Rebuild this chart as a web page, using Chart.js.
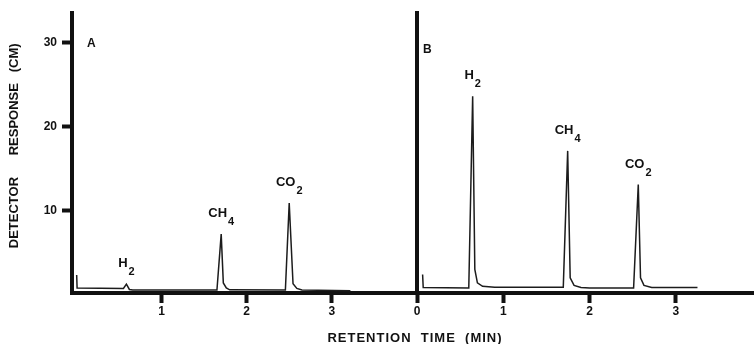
<!DOCTYPE html>
<html>
<head>
<meta charset="utf-8">
<script src="https://cdn.jsdelivr.net/npm/chart.js@4.4.1/dist/chart.umd.min.js"></script>
<style>
body { margin: 0; background: #fff; }
#wrap { position: relative; width: 754px; height: 344px; overflow: hidden; }
canvas { position: absolute; top: 0; }
#chart-a { left: 0; }
#chart-b { left: 400px; }
#x-title {
    position: absolute; left: 315px; width: 200px; top: 330px;
    text-align: center; white-space: pre; color: #111;
    font: bold 13px "Liberation Sans", Arial, sans-serif; line-height: 15px; letter-spacing: 1px;
}
</style>
</head>
<body>
<div id="wrap">
    <canvas id="chart-a" width="418" height="344"></canvas>
    <canvas id="chart-b" width="354" height="344"></canvas>
    <div id="x-title">RETENTION  TIME  (MIN)</div>
</div>
<script>
// retention time (min) / detector response (cm)
const timeA = [0.0, 0.005, 0.55, 0.585, 0.62, 0.66, 1.65, 1.70, 1.725, 1.76, 1.80, 2.455, 2.50, 2.545, 2.59, 2.65, 3.22];
const respA = [2.35, 0.8, 0.74, 1.25, 0.62, 0.55, 0.55, 7.2, 1.4, 0.8, 0.58, 0.55, 10.9, 1.3, 0.75, 0.55, 0.48];

const timeB = [0.065, 0.072, 0.60, 0.645, 0.67, 0.70, 0.76, 0.90, 1.695, 1.746, 1.775, 1.82, 1.90, 2.00, 2.51, 2.564, 2.59, 2.63, 2.72, 3.25];
const respB = [2.4, 0.85, 0.8, 23.6, 3.0, 1.4, 1.0, 0.88, 0.88, 17.1, 2.0, 1.1, 0.85, 0.78, 0.78, 13.1, 2.0, 1.1, 0.85, 0.85];

// peak labels (name + subscript)
const peakNames = ['H', 'CH', 'CO'];
const peakSubs = ['2', '4', '2'];
const peakTimeA = [0.585, 1.70, 2.50];
const peakRespA = [1.25, 7.2, 10.9];
const peakTimeB = [0.645, 1.746, 2.564];
const peakRespB = [23.6, 17.1, 13.1];

const yTicks = [10, 20, 30];
const xTicksA = [1, 2, 3];
const xTicksB = [0, 1, 2, 3];

const INK = '#111';
const FONT = '"Liberation Sans", Arial, sans-serif';

const peakLabels = {
    id: 'peakLabels',
    afterDatasetsDraw(chart, args, opts){
        const ctx = chart.ctx;
        const x = chart.scales.x, y = chart.scales.y;
        ctx.save();
        ctx.fillStyle = INK;
        ctx.textAlign = 'left';
        ctx.textBaseline = 'alphabetic';
        for(let i = 0; i < peakNames.length; i++){
            const px = x.getPixelForValue(opts.times[i]);
            const py = y.getPixelForValue(opts.heights[i]);
            ctx.font = 'bold 13px ' + FONT;
            const w1 = ctx.measureText(peakNames[i]).width;
            ctx.font = 'bold 11px ' + FONT;
            const w2 = ctx.measureText(peakSubs[i]).width;
            const left = px - (w1 + 1 + w2) / 2;
            const base = py - 17;
            ctx.font = 'bold 13px ' + FONT;
            ctx.fillText(peakNames[i], left, base);
            ctx.font = 'bold 11px ' + FONT;
            ctx.fillText(peakSubs[i], left + w1 + 1, base + 8);
        }
        // panel letter
        ctx.font = 'bold 12px ' + FONT;
        ctx.fillText(opts.letter, chart.chartArea.left + opts.letterDx, chart.chartArea.top + opts.letterDy);
        ctx.restore();
    }
};

function makePanel(id, times, resps, p)
{
    const yScale = {
        min: 0.2,
        max: 33.5,
        afterFit: s => { s.width = p.yWidth; },
        afterBuildTicks: s => { s.ticks = yTicks.map(v => ({value: v})); },
        border: {display: true, width: 4, color: INK},
        grid: {display: p.showY, drawOnChartArea: false, tickLength: 10, tickWidth: 4, tickColor: INK},
        ticks: {display: p.showY, color: INK, padding: 5, font: {family: FONT, weight: 'bold', size: 12}},
        title: {
            display: p.showY,
            text: '    DETECTOR      RESPONSE   (CM)',
            color: INK,
            font: {family: FONT, weight: 'bold', size: 13},
            padding: {top: 7, bottom: 0}
        }
    };
    return new Chart(document.getElementById(id), {
        type: 'scatter',
        data: {
            datasets: [{
                data: times.map((t, i) => ({x: t, y: resps[i]})),
                showLine: true,
                borderColor: '#1c1c1c',
                borderWidth: 1.5,
                pointRadius: 0,
                tension: 0
            }]
        },
        options: {
            responsive: false,
            animation: false,
            layout: {padding: {top: 13, left: 0, right: 0, bottom: 0}},
            plugins: {
                legend: {display: false},
                tooltip: {enabled: false},
                peakLabels: {times: p.peakTimes, heights: p.peakResps, letter: p.letter, letterDx: p.letterDx, letterDy: p.letterDy}
            },
            scales: {
                x: {
                    type: 'linear',
                    min: p.xMin,
                    max: p.xMax,
                    afterFit: s => { s.height = 51; },
                    afterBuildTicks: s => { s.ticks = p.xTicks.map(v => ({value: v})); },
                    border: {display: true, width: 4, color: INK},
                    grid: {drawOnChartArea: false, tickLength: 10, tickWidth: 4, tickColor: INK},
                    ticks: {color: INK, padding: 1, maxRotation: 0, autoSkip: false, font: {family: FONT, weight: 'bold', size: 12}}
                },
                y: yScale
            }
        },
        plugins: [peakLabels]
    });
}

makePanel('chart-a', timeA, respA, {
    xMin: -0.055, xMax: 4.015, xTicks: xTicksA, yWidth: 72, showY: true,
    peakTimes: peakTimeA, peakResps: peakRespA, letter: 'A', letterDx: 15, letterDy: 34
});
makePanel('chart-b', timeB, respB, {
    xMin: 0, xMax: 3.905, xTicks: xTicksB, yWidth: 17, showY: false,
    peakTimes: peakTimeB, peakResps: peakRespB, letter: 'B', letterDx: 6, letterDy: 40
});
</script>
</body>
</html>
